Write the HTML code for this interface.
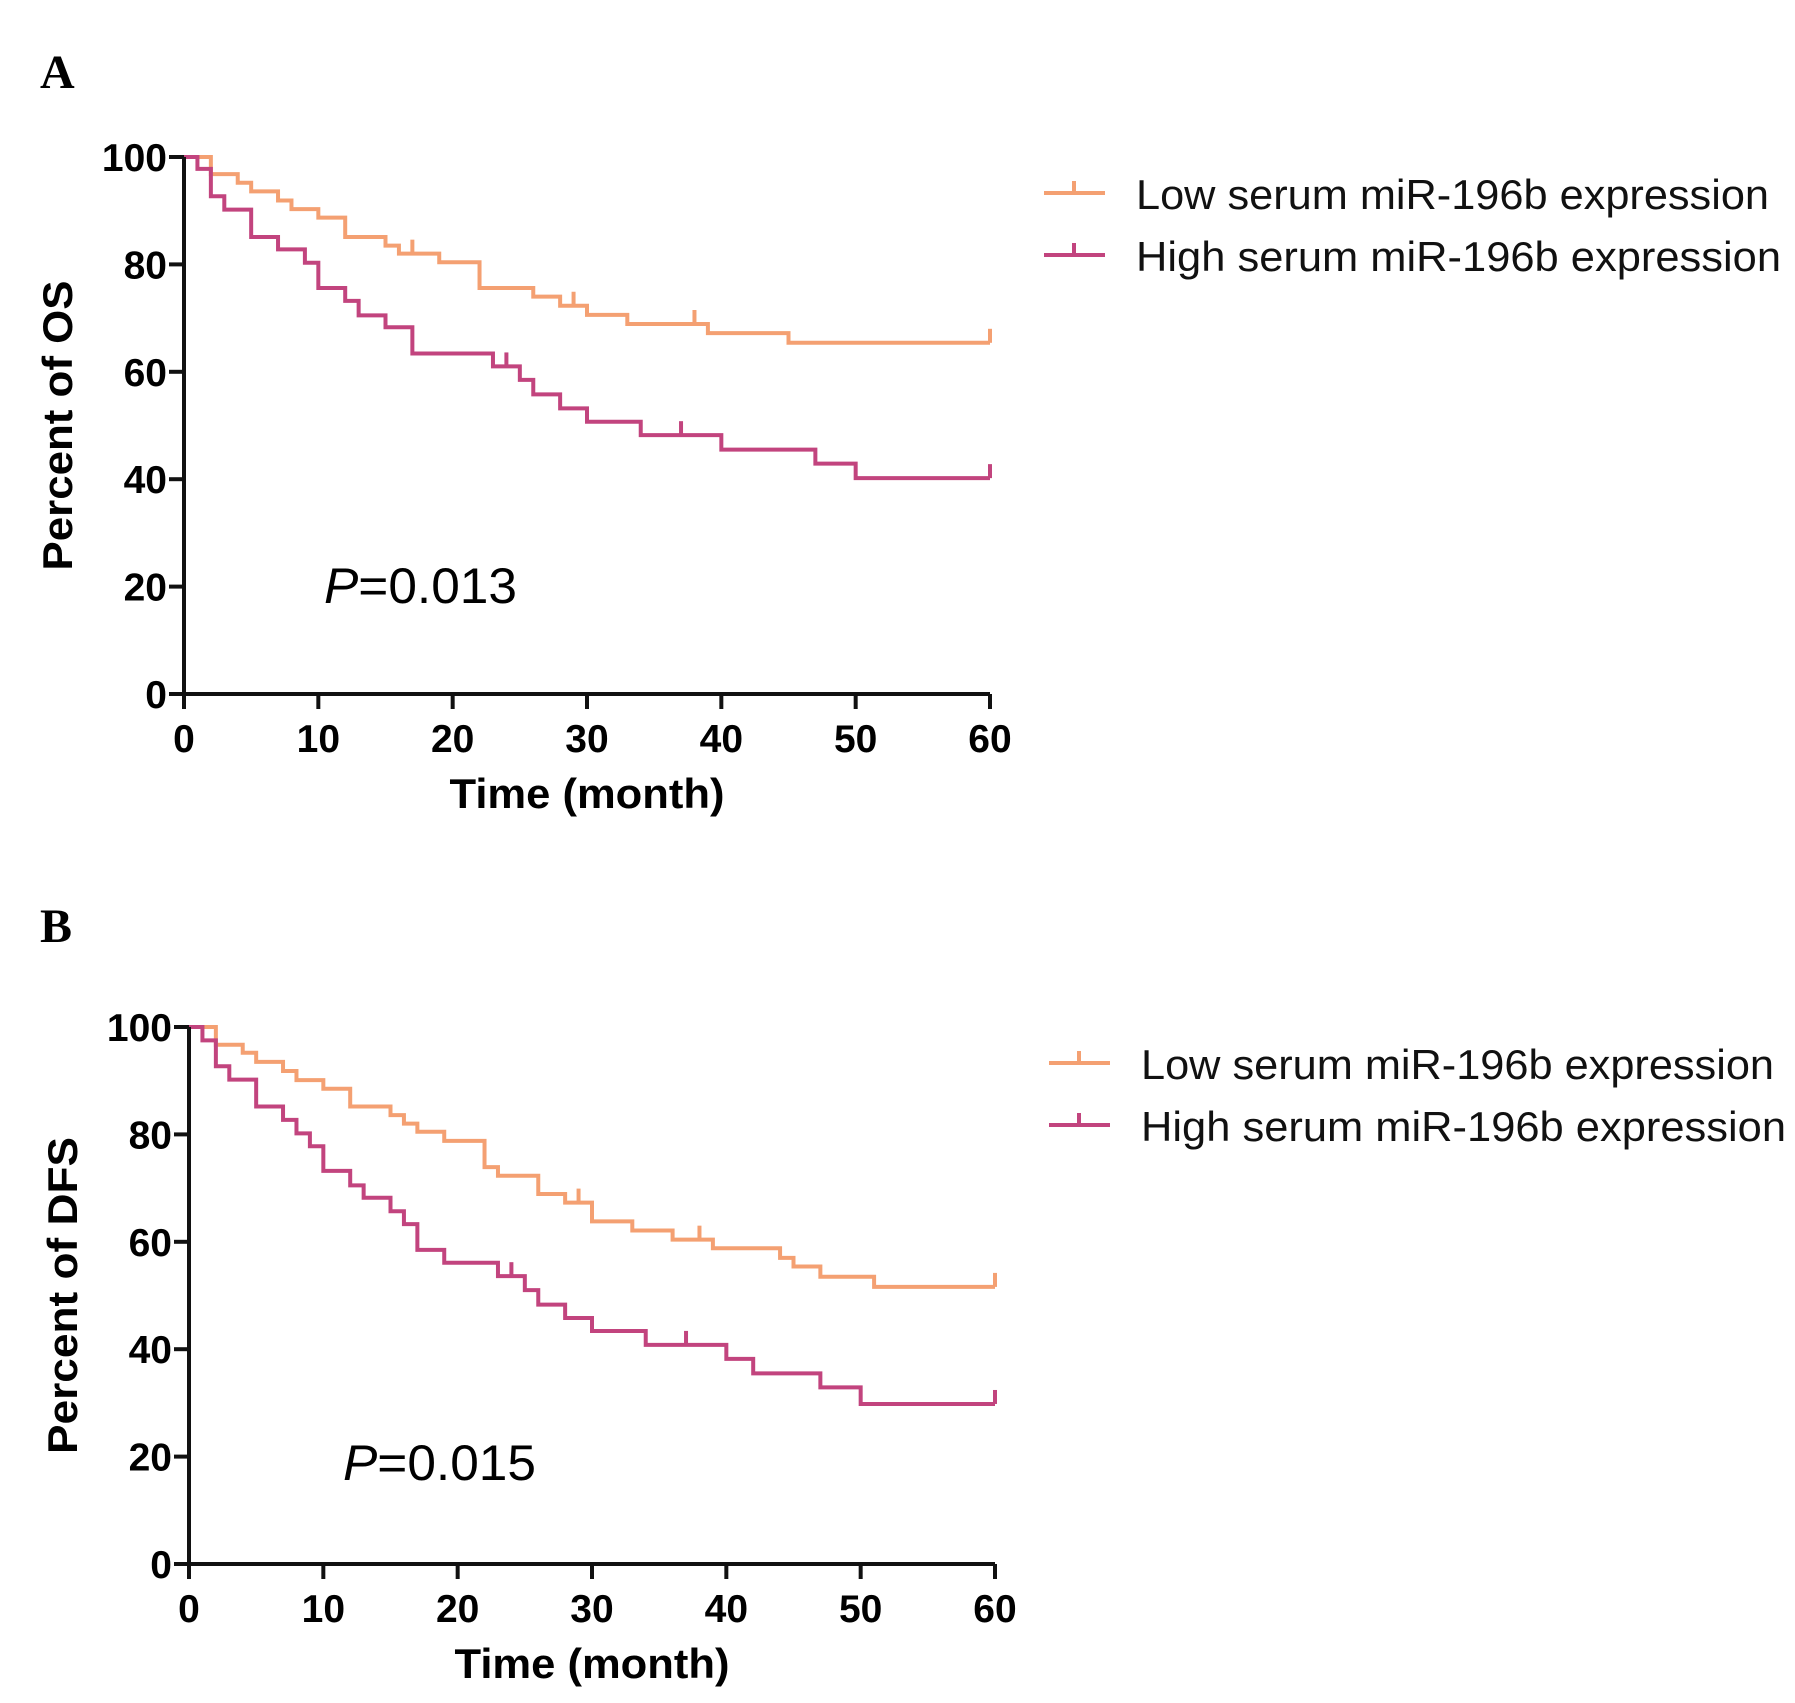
<!DOCTYPE html>
<html><head><meta charset="utf-8"><style>
html,body{margin:0;padding:0;background:#fff;}
svg{display:block;}
</style></head><body>
<svg id="fig" width="1795" height="1703" viewBox="0 0 1795 1703" xmlns="http://www.w3.org/2000/svg"></svg>
<script>
// Panel A (OS) data
const osLowT = [0,2,4,5,7,8,10,12,15,16,19,22,26,28,30,33,39,45,60];
const osLowS = [100,96.8,95.2,93.6,91.9,90.3,88.7,85.1,83.5,82.0,80.4,75.6,74.0,72.3,70.6,68.9,67.2,65.4,65.4];
const osLowCens = [17,29,38,60];
const osHighT = [0,1,2,3,5,7,9,10,12,13,15,17,23,25,26,28,30,34,40,47,50,60];
const osHighS = [100,97.8,92.7,90.2,85.1,82.8,80.3,75.6,73.2,70.5,68.3,63.4,61.0,58.5,55.8,53.2,50.7,48.2,45.5,42.9,40.2,40.2];
const osHighCens = [24,37,60];
// Panel B (DFS) data
const dfsLowT = [0,2,4,5,7,8,10,12,15,16,17,19,22,23,26,28,30,33,36,39,44,45,47,51,60];
const dfsLowS = [100,96.7,95.2,93.5,91.8,90.1,88.5,85.2,83.6,82.0,80.5,78.8,73.9,72.3,68.9,67.3,63.8,62.1,60.4,58.8,57.0,55.4,53.5,51.6,51.6];
const dfsLowCens = [29,38,60];
const dfsHighT = [0,1,2,3,5,7,8,9,10,12,13,15,16,17,19,23,25,26,28,30,34,40,42,47,50,60];
const dfsHighS = [100,97.5,92.7,90.2,85.2,82.7,80.2,77.8,73.2,70.5,68.2,65.7,63.3,58.5,56.1,53.6,51.0,48.3,45.8,43.4,40.8,38.2,35.5,32.9,29.8,29.8];
const dfsHighCens = [24,37,60];
const xTicks = [0,10,20,30,40,50,60];
const yTicks = [0,20,40,60,80,100];

const NS = "http://www.w3.org/2000/svg";
const svg = document.getElementById('fig');
const ORANGE = "#f4a072", MAG = "#c2447e";
function mk(tag, attrs, parent){
  const e = document.createElementNS(NS, tag);
  for (const k in attrs) e.setAttribute(k, attrs[k]);
  (parent||svg).appendChild(e); return e;
}
function txt(s, attrs, parent){ const e = mk('text', attrs, parent); e.textContent = s; return e; }

function panel(cfg){
  const g = mk('g', {});
  
  
  const sx = v => cfg.x0 + (cfg.x1 - cfg.x0) * v / 60;
  const sy = v => cfg.y0 + (cfg.y1 - cfg.y0) * v / 100;
  function series(T, S, C, color, nm){
    let d = `M${sx(T[0])},${sy(S[0])}`;
    for (let i = 1; i < T.length; i++){ d += ` H${sx(T[i])} V${sy(S[i])}`; }
    const p = mk('path', {d, fill:'none', stroke:color, 'stroke-width':4, 'stroke-linejoin':'miter'}, g);
    
    
    C.forEach(c => {
      let s = S[0];
      for (let i = 0; i < T.length; i++){ if (T[i] <= c) s = S[i]; }
      const l = mk('line', {x1:sx(c), x2:sx(c), y1:sy(s), y2:sy(s)-14, stroke:color, 'stroke-width':4}, g);
      
      
    });
  }
  series(cfg.lowT, cfg.lowS, cfg.lowC, ORANGE, 'low-expression');
  series(cfg.highT, cfg.highS, cfg.highC, MAG, 'high-expression');
  const ax = mk('path', {d:`M${cfg.x0},${cfg.y1} V${cfg.y0} H${cfg.x1}`, fill:'none', stroke:'#111', 'stroke-width':4}, g);
  
  
  yTicks.forEach(v => {
    mk('line', {x1:cfg.x0-15, x2:cfg.x0, y1:sy(v), y2:sy(v), stroke:'#111', 'stroke-width':4}, g);
    const t = txt(String(v), {x:cfg.x0-17, y:sy(v)+14, 'text-anchor':'end', 'font-family':'Liberation Sans, sans-serif', 'font-weight':'bold', 'font-size':39}, g);
    
    
  });
  xTicks.forEach(v => {
    mk('line', {x1:sx(v), x2:sx(v), y1:cfg.y0, y2:cfg.y0+15, stroke:'#111', 'stroke-width':4}, g);
    const t = txt(String(v), {x:sx(v), y:cfg.y0+58, 'text-anchor':'middle', 'font-family':'Liberation Sans, sans-serif', 'font-weight':'bold', 'font-size':39}, g);
    
    
  });
  const xt = txt('Time (month)', {x:(cfg.x0+cfg.x1)/2, y:cfg.y0+114, 'text-anchor':'middle', 'font-family':'Liberation Sans, sans-serif', 'font-weight':'bold', 'font-size':42, textLength:275, lengthAdjust:'spacingAndGlyphs'}, g);
  
  
  const yc = (cfg.y0+cfg.y1)/2;
  const yt = txt(cfg.ytitle, {x:0, y:0, transform:`translate(${cfg.ytx},${yc}) rotate(-90)`, 'text-anchor':'middle', 'font-family':'Liberation Sans, sans-serif', 'font-weight':'bold', 'font-size':42, textLength:cfg.ytlen, lengthAdjust:'spacingAndGlyphs'}, g);
  
  
  const pv = txt('', {x:cfg.px, y:cfg.py, 'font-family':'Liberation Sans, sans-serif', 'font-size':50, textLength:193, lengthAdjust:'spacingAndGlyphs'}, g);
  
  
  const pi = mk('tspan', {'font-style':'italic'}, pv); pi.textContent = 'P';
  const pr = mk('tspan', {}, pv); pr.textContent = cfg.ptext;
  const lab = txt(cfg.letter, {x:40, y:cfg.ly, 'font-family':'Liberation Serif, serif', 'font-weight':'bold', 'font-size':48}, g);
  
  
  [[ORANGE,'Low serum miR-196b expression',cfg.lg1,'legend-entry-low'],[MAG,'High serum miR-196b expression',cfg.lg2,'legend-entry-high']].forEach(([c,s,yy,nm],i) => {
    const lg = mk('g', {}, g);
    
    
    mk('line', {x1:cfg.lgx, x2:cfg.lgx+61, y1:yy, y2:yy, stroke:c, 'stroke-width':4}, lg);
    mk('line', {x1:cfg.lgx+30, x2:cfg.lgx+30, y1:yy, y2:yy-12, stroke:c, 'stroke-width':4}, lg);
    txt(s, {x:cfg.lgx+92, y:yy+16, 'font-family':'Liberation Sans, sans-serif', 'font-size':42, textLength: i===0?633:645, lengthAdjust:'spacingAndGlyphs', fill:'#111'}, lg);
  });
}
panel({name:'panel-a-os', x0:184, x1:990, y0:694, y1:157, lowT:osLowT, lowS:osLowS, lowC:osLowCens, highT:osHighT, highS:osHighS, highC:osHighCens,
  ytitle:'Percent of OS', ytx:72, ytlen:290, px:324, py:603, ptext:'=0.013', letter:'A', ly:88, lgx:1044, lg1:193, lg2:255});
panel({name:'panel-b-dfs', x0:189, x1:995, y0:1564, y1:1027, lowT:dfsLowT, lowS:dfsLowS, lowC:dfsLowCens, highT:dfsHighT, highS:dfsHighS, highC:dfsHighCens,
  ytitle:'Percent of DFS', ytx:77, ytlen:317, px:343, py:1480, ptext:'=0.015', letter:'B', ly:942, lgx:1049, lg1:1063, lg2:1125});
</script>
</body></html>
